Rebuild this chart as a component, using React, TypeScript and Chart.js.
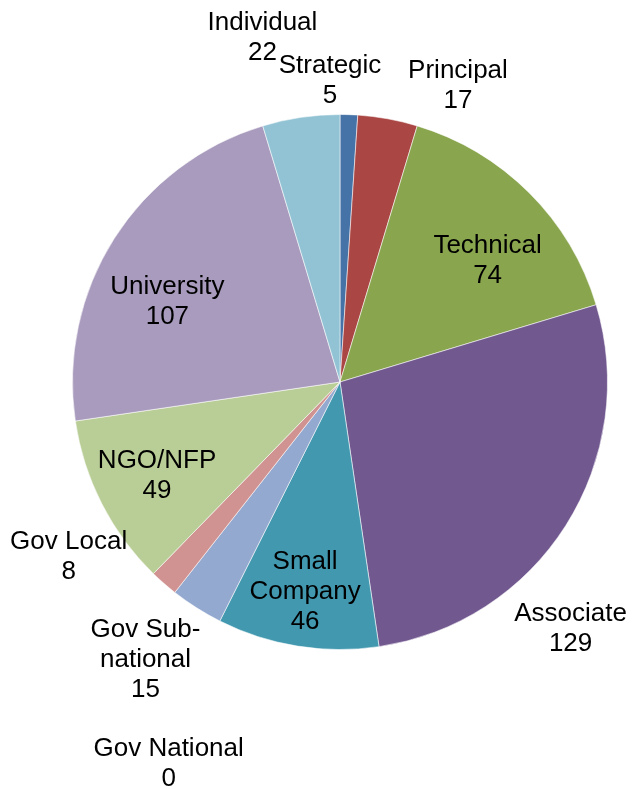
import React, { useEffect, useRef } from 'react';
import { Chart, registerables } from 'chart.js';

Chart.register(...registerables);

const categories = [
  'Strategic',
  'Principal',
  'Technical',
  'Associate',
  'Small Company',
  'Gov National',
  'Gov Sub-national',
  'Gov Local',
  'NGO/NFP',
  'University',
  'Individual',
];
const values = [5, 17, 74, 129, 46, 0, 15, 8, 49, 107, 22];
const labelLines = [
  ['Strategic'],
  ['Principal'],
  ['Technical'],
  ['Associate'],
  ['Small', 'Company'],
  ['Gov National'],
  ['Gov Sub-', 'national'],
  ['Gov Local'],
  ['NGO/NFP'],
  ['University'],
  ['Individual'],
];
const colors = [
  '#4572A7',
  '#AA4643',
  '#89A54E',
  '#71588F',
  '#4198AF',
  '#DB843D',
  '#93A9CF',
  '#D19392',
  '#B9CD96',
  '#A99BBD',
  '#92C3D4',
];
// label placement relative to each slice: radius factor and angular shift (deg)
const labelRadius = [1.128, 1.193, 0.713, 1.262, 0.794, 1.563, 1.267, 1.207, 0.768, 0.711, 1.32];
const labelAngleShift = [-3.8, 11.4, 5.7, 14.5, 0.3, -2.5, 2.6, 16, 0, -7.6, -4.3];

const labelPlugin = {
  id: 'sliceLabels',
  afterDatasetsDraw(chart: any) {
    const ctx = chart.ctx;
    const meta = chart.getDatasetMeta(0);
    ctx.save();
    ctx.font = '26px "Liberation Sans", Arial, sans-serif';
    ctx.fillStyle = '#000';
    ctx.textAlign = 'center';
    ctx.textBaseline = 'middle';
    const lineH = 30;
    meta.data.forEach((arc: any, i: number) => {
      const p = arc.getProps(['x', 'y', 'startAngle', 'endAngle', 'outerRadius'], true);
      const mid = (p.startAngle + p.endAngle) / 2 + (labelAngleShift[i] * Math.PI) / 180;
      const r = p.outerRadius * labelRadius[i];
      const cx = p.x + Math.cos(mid) * r;
      const cy = p.y + Math.sin(mid) * r;
      const lines = [...labelLines[i], String(values[i])];
      lines.forEach((t, j) => {
        ctx.fillText(t, cx, cy + (j - (lines.length - 1) / 2) * lineH);
      });
    });
    ctx.restore();
  },
};

export default function App() {
  const ref = useRef<HTMLCanvasElement | null>(null);
  useEffect(() => {
    if (!ref.current) return;
    const chart = new Chart(ref.current, {
      type: 'pie',
      data: {
        labels: categories,
        datasets: [
          {
            data: values,
            backgroundColor: colors,
            borderColor: 'rgba(255,255,255,0.55)',
            borderWidth: 1,
          },
        ],
      },
      options: {
        responsive: false,
        animation: false,
        layout: { padding: { left: 72, right: 24, top: 114, bottom: 139 } },
        plugins: {
          legend: { display: false },
          tooltip: { enabled: false },
        },
      },
      plugins: [labelPlugin],
    });
    return () => chart.destroy();
  }, []);
  return (
    <div style={{ position: 'fixed', left: 0, top: 0, width: 632, height: 789, background: '#fff' }}>
      <canvas ref={ref} width={632} height={789} />
    </div>
  );
}
